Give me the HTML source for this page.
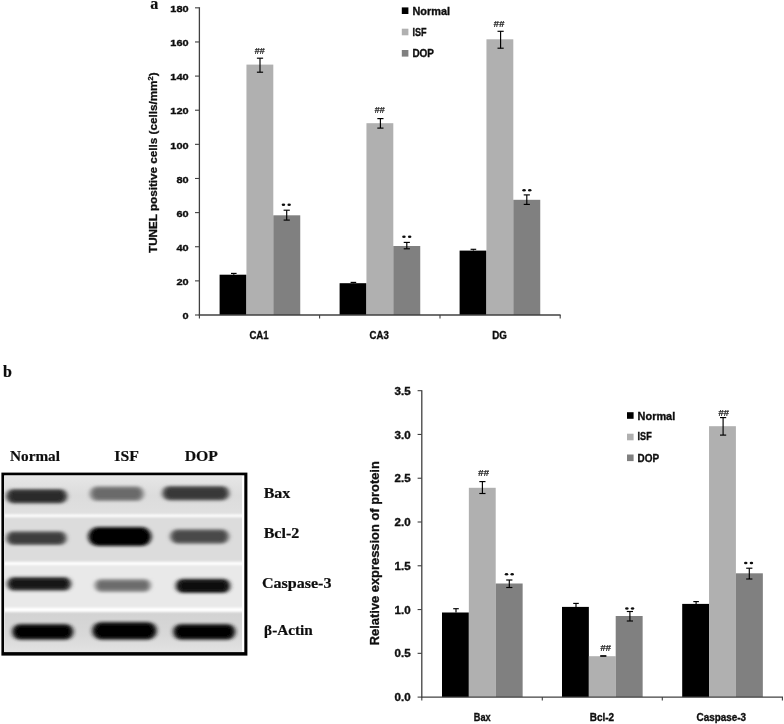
<!DOCTYPE html>
<html><head><meta charset="utf-8"><title>figure</title>
<style>
html,body{margin:0;padding:0;background:#fff;}
body{width:784px;height:724px;overflow:hidden;font-family:"Liberation Sans",sans-serif;}
svg{display:block;}
</style></head><body>
<svg width="784" height="724" viewBox="0 0 784 724">
<defs>
<filter id="b1" x="-20%" y="-50%" width="140%" height="200%"><feGaussianBlur stdDeviation="1.6"/></filter>
<filter id="b2" x="-20%" y="-50%" width="140%" height="200%"><feGaussianBlur stdDeviation="2.2"/></filter>
<filter id="b0" x="-20%" y="-50%" width="140%" height="200%"><feGaussianBlur stdDeviation="1.0"/></filter>
<filter id="bb" x="-20%" y="-60%" width="140%" height="220%"><feGaussianBlur stdDeviation="2.3 1.6"/></filter>
<filter id="bi" x="-20%" y="-60%" width="140%" height="220%"><feGaussianBlur stdDeviation="1.7 1.1"/></filter>
<filter id="bs" x="-5%" y="-200%" width="110%" height="500%"><feGaussianBlur stdDeviation="0 0.8"/></filter>
<filter id="soft"><feGaussianBlur stdDeviation="0.35"/></filter>
</defs>
<rect width="784" height="724" fill="#fff"/>
<g filter="url(#soft)">

<text x="150.3" y="8.7" font-family="Liberation Serif, sans-serif" font-size="16" font-weight="bold" text-anchor="start" stroke="#111" stroke-width="0.2" fill="#111">a</text>
<rect x="219.60" y="274.70" width="26.85" height="40.30" fill="#000" />
<rect x="246.45" y="64.60" width="26.85" height="250.40" fill="#b0b0b0" />
<rect x="273.30" y="215.30" width="26.95" height="99.70" fill="#808080" />
<rect x="339.60" y="283.20" width="26.85" height="31.80" fill="#000" />
<rect x="366.45" y="123.20" width="26.85" height="191.80" fill="#b0b0b0" />
<rect x="393.30" y="246.00" width="26.95" height="69.00" fill="#808080" />
<rect x="459.60" y="250.60" width="26.85" height="64.40" fill="#000" />
<rect x="486.45" y="39.30" width="26.85" height="275.70" fill="#b0b0b0" />
<rect x="513.30" y="199.80" width="26.95" height="115.20" fill="#808080" />
<line x1="199.40" y1="7.20" x2="199.40" y2="315.50" stroke="#404040" stroke-width="1.3"/>
<line x1="198.80" y1="315.00" x2="560.60" y2="315.00" stroke="#404040" stroke-width="1.3"/>
<line x1="195.00" y1="315.00" x2="199.40" y2="315.00" stroke="#404040" stroke-width="1.1"/>
<text x="188.6" y="319.2" font-family="Liberation Sans, sans-serif" font-size="9.8" font-weight="bold" text-anchor="end" textLength="6.1" lengthAdjust="spacingAndGlyphs" stroke="#111" stroke-width="0.35" fill="#111">0</text>
<line x1="195.00" y1="280.87" x2="199.40" y2="280.87" stroke="#404040" stroke-width="1.1"/>
<text x="188.6" y="285.07" font-family="Liberation Sans, sans-serif" font-size="9.8" font-weight="bold" text-anchor="end" textLength="12.2" lengthAdjust="spacingAndGlyphs" stroke="#111" stroke-width="0.35" fill="#111">20</text>
<line x1="195.00" y1="246.74" x2="199.40" y2="246.74" stroke="#404040" stroke-width="1.1"/>
<text x="188.6" y="250.94" font-family="Liberation Sans, sans-serif" font-size="9.8" font-weight="bold" text-anchor="end" textLength="12.2" lengthAdjust="spacingAndGlyphs" stroke="#111" stroke-width="0.35" fill="#111">40</text>
<line x1="195.00" y1="212.61" x2="199.40" y2="212.61" stroke="#404040" stroke-width="1.1"/>
<text x="188.6" y="216.80999999999997" font-family="Liberation Sans, sans-serif" font-size="9.8" font-weight="bold" text-anchor="end" textLength="12.2" lengthAdjust="spacingAndGlyphs" stroke="#111" stroke-width="0.35" fill="#111">60</text>
<line x1="195.00" y1="178.48" x2="199.40" y2="178.48" stroke="#404040" stroke-width="1.1"/>
<text x="188.6" y="182.67999999999998" font-family="Liberation Sans, sans-serif" font-size="9.8" font-weight="bold" text-anchor="end" textLength="12.2" lengthAdjust="spacingAndGlyphs" stroke="#111" stroke-width="0.35" fill="#111">80</text>
<line x1="195.00" y1="144.35" x2="199.40" y2="144.35" stroke="#404040" stroke-width="1.1"/>
<text x="188.6" y="148.54999999999998" font-family="Liberation Sans, sans-serif" font-size="9.8" font-weight="bold" text-anchor="end" textLength="18.3" lengthAdjust="spacingAndGlyphs" stroke="#111" stroke-width="0.35" fill="#111">100</text>
<line x1="195.00" y1="110.22" x2="199.40" y2="110.22" stroke="#404040" stroke-width="1.1"/>
<text x="188.6" y="114.41999999999997" font-family="Liberation Sans, sans-serif" font-size="9.8" font-weight="bold" text-anchor="end" textLength="18.3" lengthAdjust="spacingAndGlyphs" stroke="#111" stroke-width="0.35" fill="#111">120</text>
<line x1="195.00" y1="76.09" x2="199.40" y2="76.09" stroke="#404040" stroke-width="1.1"/>
<text x="188.6" y="80.28999999999998" font-family="Liberation Sans, sans-serif" font-size="9.8" font-weight="bold" text-anchor="end" textLength="18.3" lengthAdjust="spacingAndGlyphs" stroke="#111" stroke-width="0.35" fill="#111">140</text>
<line x1="195.00" y1="41.96" x2="199.40" y2="41.96" stroke="#404040" stroke-width="1.1"/>
<text x="188.6" y="46.15999999999998" font-family="Liberation Sans, sans-serif" font-size="9.8" font-weight="bold" text-anchor="end" textLength="18.3" lengthAdjust="spacingAndGlyphs" stroke="#111" stroke-width="0.35" fill="#111">160</text>
<line x1="195.00" y1="7.83" x2="199.40" y2="7.83" stroke="#404040" stroke-width="1.1"/>
<text x="188.6" y="12.029999999999983" font-family="Liberation Sans, sans-serif" font-size="9.8" font-weight="bold" text-anchor="end" textLength="18.3" lengthAdjust="spacingAndGlyphs" stroke="#111" stroke-width="0.35" fill="#111">180</text>
<line x1="319.60" y1="315.00" x2="319.60" y2="318.60" stroke="#404040" stroke-width="1.1"/>
<line x1="440.00" y1="315.00" x2="440.00" y2="318.60" stroke="#404040" stroke-width="1.1"/>
<line x1="560.20" y1="315.00" x2="560.20" y2="318.60" stroke="#404040" stroke-width="1.1"/>
<line x1="199.40" y1="315.00" x2="199.40" y2="318.60" stroke="#404040" stroke-width="1.1"/>
<text x="259.0" y="339.2" font-family="Liberation Sans, sans-serif" font-size="10.4" font-weight="bold" text-anchor="middle" textLength="19.2" lengthAdjust="spacingAndGlyphs" stroke="#111" stroke-width="0.35" fill="#111">CA1</text>
<text x="379.2" y="339.2" font-family="Liberation Sans, sans-serif" font-size="10.4" font-weight="bold" text-anchor="middle" textLength="19.2" lengthAdjust="spacingAndGlyphs" stroke="#111" stroke-width="0.35" fill="#111">CA3</text>
<text x="499.5" y="339.2" font-family="Liberation Sans, sans-serif" font-size="10.4" font-weight="bold" text-anchor="middle" textLength="14.6" lengthAdjust="spacingAndGlyphs" stroke="#111" stroke-width="0.35" fill="#111">DG</text>
<text transform="translate(156.9,253.0) rotate(-90)" font-family="Liberation Sans, sans-serif" font-size="10.8" font-weight="bold" textLength="180.6" lengthAdjust="spacingAndGlyphs" fill="#111" stroke="#111" stroke-width="0.3">TUNEL positive cells (cells/mm<tspan font-size="7" dy="-3.5">2</tspan><tspan dy="3.5">)</tspan></text>
<rect x="401.80" y="7.40" width="6.60" height="6.60" fill="#000" />
<text x="412.4" y="14.6" font-family="Liberation Sans, sans-serif" font-size="10.4" font-weight="bold" text-anchor="start" textLength="37.6" lengthAdjust="spacingAndGlyphs" stroke="#111" stroke-width="0.35" fill="#111">Normal</text>
<rect x="401.80" y="28.70" width="6.60" height="6.60" fill="#b0b0b0" />
<text x="412.4" y="35.5" font-family="Liberation Sans, sans-serif" font-size="10.4" font-weight="bold" text-anchor="start" textLength="14.1" lengthAdjust="spacingAndGlyphs" stroke="#111" stroke-width="0.35" fill="#111">ISF</text>
<rect x="401.80" y="50.00" width="6.60" height="6.60" fill="#808080" />
<text x="412.4" y="56.5" font-family="Liberation Sans, sans-serif" font-size="10.4" font-weight="bold" text-anchor="start" textLength="21.6" lengthAdjust="spacingAndGlyphs" stroke="#111" stroke-width="0.35" fill="#111">DOP</text>
<line x1="233.80" y1="273.40" x2="233.80" y2="274.70" stroke="#000" stroke-width="1.15"/>
<line x1="231.00" y1="273.40" x2="236.60" y2="273.40" stroke="#000" stroke-width="1.15"/>
<line x1="260.00" y1="58.20" x2="260.00" y2="72.20" stroke="#000" stroke-width="1.15"/>
<line x1="256.90" y1="58.20" x2="263.10" y2="58.20" stroke="#000" stroke-width="1.15"/>
<line x1="256.90" y1="72.20" x2="263.10" y2="72.20" stroke="#000" stroke-width="1.15"/>
<line x1="286.70" y1="210.20" x2="286.70" y2="220.10" stroke="#000" stroke-width="1.15"/>
<line x1="283.60" y1="210.20" x2="289.80" y2="210.20" stroke="#000" stroke-width="1.15"/>
<line x1="283.60" y1="220.10" x2="289.80" y2="220.10" stroke="#000" stroke-width="1.15"/>
<line x1="353.40" y1="282.40" x2="353.40" y2="283.20" stroke="#000" stroke-width="1.15"/>
<line x1="350.60" y1="282.40" x2="356.20" y2="282.40" stroke="#000" stroke-width="1.15"/>
<line x1="380.40" y1="118.60" x2="380.40" y2="128.10" stroke="#000" stroke-width="1.15"/>
<line x1="377.30" y1="118.60" x2="383.50" y2="118.60" stroke="#000" stroke-width="1.15"/>
<line x1="377.30" y1="128.10" x2="383.50" y2="128.10" stroke="#000" stroke-width="1.15"/>
<line x1="406.80" y1="242.40" x2="406.80" y2="248.80" stroke="#000" stroke-width="1.15"/>
<line x1="403.70" y1="242.40" x2="409.90" y2="242.40" stroke="#000" stroke-width="1.15"/>
<line x1="403.70" y1="248.80" x2="409.90" y2="248.80" stroke="#000" stroke-width="1.15"/>
<line x1="473.40" y1="249.30" x2="473.40" y2="250.60" stroke="#000" stroke-width="1.15"/>
<line x1="470.60" y1="249.30" x2="476.20" y2="249.30" stroke="#000" stroke-width="1.15"/>
<line x1="500.60" y1="31.30" x2="500.60" y2="48.20" stroke="#000" stroke-width="1.15"/>
<line x1="497.50" y1="31.30" x2="503.70" y2="31.30" stroke="#000" stroke-width="1.15"/>
<line x1="497.50" y1="48.20" x2="503.70" y2="48.20" stroke="#000" stroke-width="1.15"/>
<line x1="526.80" y1="194.90" x2="526.80" y2="204.40" stroke="#000" stroke-width="1.15"/>
<line x1="523.70" y1="194.90" x2="529.90" y2="194.90" stroke="#000" stroke-width="1.15"/>
<line x1="523.70" y1="204.40" x2="529.90" y2="204.40" stroke="#000" stroke-width="1.15"/>
<text x="254.4" y="54.199999999999996" font-family="Liberation Sans, sans-serif" font-size="8.71" font-weight="bold" font-style="italic" textLength="10.20" lengthAdjust="spacingAndGlyphs" fill="#222" stroke="#222" stroke-width="0.15">##</text>
<text x="374.4" y="112.60000000000001" font-family="Liberation Sans, sans-serif" font-size="8.86" font-weight="bold" font-style="italic" textLength="10.20" lengthAdjust="spacingAndGlyphs" fill="#222" stroke="#222" stroke-width="0.15">##</text>
<text x="493.6" y="26.7" font-family="Liberation Sans, sans-serif" font-size="8.71" font-weight="bold" font-style="italic" textLength="10.60" lengthAdjust="spacingAndGlyphs" fill="#222" stroke="#222" stroke-width="0.15">##</text>
<ellipse cx="283.45" cy="204.70" rx="1.75" ry="1.3" fill="#111"/>
<ellipse cx="289.15" cy="204.70" rx="1.75" ry="1.3" fill="#111"/>
<ellipse cx="403.95" cy="236.80" rx="1.75" ry="1.3" fill="#111"/>
<ellipse cx="409.65" cy="236.80" rx="1.75" ry="1.3" fill="#111"/>
<ellipse cx="524.05" cy="190.20" rx="1.75" ry="1.3" fill="#111"/>
<ellipse cx="529.75" cy="190.20" rx="1.75" ry="1.3" fill="#111"/>
<text x="3.0" y="376.8" font-family="Liberation Serif, sans-serif" font-size="16" font-weight="bold" text-anchor="start" stroke="#111" stroke-width="0.2" fill="#111">b</text>
<text x="10.0" y="461.3" font-family="Liberation Serif, sans-serif" font-size="15.6" font-weight="bold" text-anchor="start" textLength="50.0" lengthAdjust="spacingAndGlyphs" stroke="#111" stroke-width="0.2" fill="#111">Normal</text>
<text x="114.3" y="461.3" font-family="Liberation Serif, sans-serif" font-size="15.6" font-weight="bold" text-anchor="start" textLength="24.5" lengthAdjust="spacingAndGlyphs" stroke="#111" stroke-width="0.2" fill="#111">ISF</text>
<text x="184.7" y="461.3" font-family="Liberation Serif, sans-serif" font-size="15.6" font-weight="bold" text-anchor="start" textLength="33.3" lengthAdjust="spacingAndGlyphs" stroke="#111" stroke-width="0.2" fill="#111">DOP</text>
<rect x="1.40" y="472.60" width="246.00" height="183.00" fill="#000" />
<rect x="4.10" y="475.30" width="240.20" height="176.80" fill="#fff" />
<linearGradient id="g1" x1="0" y1="0" x2="0" y2="1"><stop offset="0" stop-color="#e6e6e6"/><stop offset="0.5" stop-color="#dcdcdc"/><stop offset="1" stop-color="#e0e0e0"/></linearGradient>
<linearGradient id="g4" x1="0" y1="0" x2="0" y2="1"><stop offset="0" stop-color="#d2d2d2"/><stop offset="0.6" stop-color="#d8d8d8"/><stop offset="1" stop-color="#e2e2e2"/></linearGradient>
<rect x="4.80" y="476.40" width="237.20" height="175.40" fill="#dedede" />
<rect x="4.80" y="476.40" width="237.20" height="39.00" fill="url(#g1)" />
<rect x="4.80" y="516.00" width="237.20" height="47.00" fill="#dcdcdc" />
<rect x="4.80" y="563.40" width="237.20" height="46.60" fill="#e9e9e9" />
<rect x="4.80" y="610.00" width="237.20" height="41.80" fill="url(#g4)" />
<rect x="4.8" y="514.50" width="237.2" height="2.60" fill="#fff" filter="url(#bs)"/>
<rect x="4.8" y="561.80" width="237.2" height="3.20" fill="#fff" filter="url(#bs)"/>
<rect x="4.8" y="607.80" width="237.2" height="4.20" fill="#fff" filter="url(#bs)"/>
<g>
<rect x="5.9" y="488.9" width="61.6" height="14.6" rx="7.3" fill="#4a4a4a" filter="url(#bb)"/>
<rect x="9.9" y="491.5" width="53.6" height="9.4" rx="4.7" fill="#2c2c2c" filter="url(#bi)"/>
<rect x="89.7" y="486.3" width="54.3" height="14.8" rx="7.4" fill="#828282" filter="url(#bb)"/>
<rect x="93.7" y="488.9" width="46.3" height="9.6" rx="4.8" fill="#6a6a6a" filter="url(#bi)"/>
<rect x="162.0" y="485.9" width="67.5" height="14.6" rx="7.3" fill="#555" filter="url(#bb)"/>
<rect x="166.0" y="488.5" width="59.5" height="9.4" rx="4.7" fill="#383838" filter="url(#bi)"/>
<rect x="6.1" y="531.3" width="60.7" height="13.8" rx="6.9" fill="#585858" filter="url(#bb)"/>
<rect x="10.1" y="533.9" width="52.7" height="8.6" rx="4.3" fill="#3c3c3c" filter="url(#bi)"/>
<rect x="88.1" y="527.1" width="63.4" height="19.0" rx="9.5" fill="#0a0a0a" filter="url(#bb)"/>
<rect x="92.1" y="530.0" width="55.4" height="13.2" rx="6.6" fill="#000" filter="url(#bi)"/>
<rect x="170.0" y="529.3" width="59.1" height="14.4" rx="7.2" fill="#626262" filter="url(#bb)"/>
<rect x="174.0" y="531.9" width="51.1" height="9.2" rx="4.6" fill="#484848" filter="url(#bi)"/>
<rect x="6.7" y="576.9" width="64.8" height="13.8" rx="6.9" fill="#3c3c3c" filter="url(#bb)"/>
<rect x="10.7" y="579.5" width="56.8" height="8.6" rx="4.3" fill="#161616" filter="url(#bi)"/>
<rect x="94.5" y="578.9" width="56.5" height="13.0" rx="6.5" fill="#868686" filter="url(#bb)"/>
<rect x="98.5" y="582.0" width="48.5" height="6.8" rx="3.4" fill="#6c6c6c" filter="url(#bi)"/>
<rect x="175.5" y="578.7" width="55.0" height="14.4" rx="7.2" fill="#2c2c2c" filter="url(#bb)"/>
<rect x="179.5" y="581.3" width="47.0" height="9.2" rx="4.6" fill="#0c0c0c" filter="url(#bi)"/>
<rect x="12.0" y="623.9" width="61.5" height="15.8" rx="7.9" fill="#1e1e1e" filter="url(#bb)"/>
<rect x="16.0" y="626.9" width="53.5" height="9.8" rx="4.9" fill="#000" filter="url(#bi)"/>
<rect x="92.0" y="621.9" width="65.0" height="17.8" rx="8.9" fill="#1e1e1e" filter="url(#bb)"/>
<rect x="96.0" y="624.9" width="57.0" height="11.8" rx="5.9" fill="#000" filter="url(#bi)"/>
<rect x="173.0" y="623.9" width="62.5" height="15.8" rx="7.9" fill="#1e1e1e" filter="url(#bb)"/>
<rect x="177.0" y="626.9" width="54.5" height="9.8" rx="4.9" fill="#000" filter="url(#bi)"/>
</g>
<text x="263.7" y="497.9" font-family="Liberation Serif, sans-serif" font-size="14.6" font-weight="bold" text-anchor="start" textLength="26.6" lengthAdjust="spacingAndGlyphs" stroke="#111" stroke-width="0.2" fill="#111">Bax</text>
<text x="263.7" y="538.1" font-family="Liberation Serif, sans-serif" font-size="14.6" font-weight="bold" text-anchor="start" textLength="35.6" lengthAdjust="spacingAndGlyphs" stroke="#111" stroke-width="0.2" fill="#111">Bcl-2</text>
<text x="261.9" y="587.6" font-family="Liberation Serif, sans-serif" font-size="14.6" font-weight="bold" text-anchor="start" textLength="69.6" lengthAdjust="spacingAndGlyphs" stroke="#111" stroke-width="0.2" fill="#111">Caspase-3</text>
<text x="264.1" y="634.7" font-family="Liberation Serif, sans-serif" font-size="14.6" font-weight="bold" text-anchor="start" textLength="48.7" lengthAdjust="spacingAndGlyphs" stroke="#111" stroke-width="0.2" fill="#111">β-Actin</text>
<rect x="442.00" y="612.50" width="26.85" height="84.60" fill="#000" />
<rect x="468.85" y="487.80" width="26.85" height="209.30" fill="#b0b0b0" />
<rect x="495.70" y="583.50" width="26.95" height="113.60" fill="#808080" />
<rect x="562.00" y="606.90" width="26.85" height="90.20" fill="#000" />
<rect x="588.85" y="656.20" width="26.85" height="40.90" fill="#b0b0b0" />
<rect x="615.70" y="616.00" width="26.95" height="81.10" fill="#808080" />
<rect x="682.20" y="603.90" width="26.85" height="93.20" fill="#000" />
<rect x="709.05" y="426.20" width="26.85" height="270.90" fill="#b0b0b0" />
<rect x="735.90" y="573.30" width="26.95" height="123.80" fill="#808080" />
<line x1="421.80" y1="390.20" x2="421.80" y2="697.60" stroke="#404040" stroke-width="1.3"/>
<line x1="421.20" y1="697.10" x2="783.00" y2="697.10" stroke="#404040" stroke-width="1.3"/>
<line x1="417.60" y1="697.10" x2="421.80" y2="697.10" stroke="#404040" stroke-width="1.1"/>
<text x="410.6" y="701.2" font-family="Liberation Sans, sans-serif" font-size="10.0" font-weight="bold" text-anchor="end" textLength="16.0" lengthAdjust="spacingAndGlyphs" stroke="#111" stroke-width="0.35" fill="#111">0.0</text>
<line x1="417.60" y1="653.33" x2="421.80" y2="653.33" stroke="#404040" stroke-width="1.1"/>
<text x="410.6" y="657.4250000000001" font-family="Liberation Sans, sans-serif" font-size="10.0" font-weight="bold" text-anchor="end" textLength="16.0" lengthAdjust="spacingAndGlyphs" stroke="#111" stroke-width="0.35" fill="#111">0.5</text>
<line x1="417.60" y1="609.55" x2="421.80" y2="609.55" stroke="#404040" stroke-width="1.1"/>
<text x="410.6" y="613.6500000000001" font-family="Liberation Sans, sans-serif" font-size="10.0" font-weight="bold" text-anchor="end" textLength="16.0" lengthAdjust="spacingAndGlyphs" stroke="#111" stroke-width="0.35" fill="#111">1.0</text>
<line x1="417.60" y1="565.78" x2="421.80" y2="565.78" stroke="#404040" stroke-width="1.1"/>
<text x="410.6" y="569.8750000000001" font-family="Liberation Sans, sans-serif" font-size="10.0" font-weight="bold" text-anchor="end" textLength="16.0" lengthAdjust="spacingAndGlyphs" stroke="#111" stroke-width="0.35" fill="#111">1.5</text>
<line x1="417.60" y1="522.00" x2="421.80" y2="522.00" stroke="#404040" stroke-width="1.1"/>
<text x="410.6" y="526.1" font-family="Liberation Sans, sans-serif" font-size="10.0" font-weight="bold" text-anchor="end" textLength="16.0" lengthAdjust="spacingAndGlyphs" stroke="#111" stroke-width="0.35" fill="#111">2.0</text>
<line x1="417.60" y1="478.23" x2="421.80" y2="478.23" stroke="#404040" stroke-width="1.1"/>
<text x="410.6" y="482.32500000000005" font-family="Liberation Sans, sans-serif" font-size="10.0" font-weight="bold" text-anchor="end" textLength="16.0" lengthAdjust="spacingAndGlyphs" stroke="#111" stroke-width="0.35" fill="#111">2.5</text>
<line x1="417.60" y1="434.45" x2="421.80" y2="434.45" stroke="#404040" stroke-width="1.1"/>
<text x="410.6" y="438.55000000000007" font-family="Liberation Sans, sans-serif" font-size="10.0" font-weight="bold" text-anchor="end" textLength="16.0" lengthAdjust="spacingAndGlyphs" stroke="#111" stroke-width="0.35" fill="#111">3.0</text>
<line x1="417.60" y1="390.68" x2="421.80" y2="390.68" stroke="#404040" stroke-width="1.1"/>
<text x="410.6" y="394.77500000000003" font-family="Liberation Sans, sans-serif" font-size="10.0" font-weight="bold" text-anchor="end" textLength="16.0" lengthAdjust="spacingAndGlyphs" stroke="#111" stroke-width="0.35" fill="#111">3.5</text>
<line x1="542.30" y1="697.10" x2="542.30" y2="700.60" stroke="#404040" stroke-width="1.1"/>
<line x1="662.30" y1="697.10" x2="662.30" y2="700.60" stroke="#404040" stroke-width="1.1"/>
<line x1="782.40" y1="697.10" x2="782.40" y2="700.60" stroke="#404040" stroke-width="1.1"/>
<line x1="421.80" y1="697.10" x2="421.80" y2="700.60" stroke="#404040" stroke-width="1.1"/>
<text x="482.2" y="721.3" font-family="Liberation Sans, sans-serif" font-size="10.4" font-weight="bold" text-anchor="middle" textLength="16.8" lengthAdjust="spacingAndGlyphs" stroke="#111" stroke-width="0.35" fill="#111">Bax</text>
<text x="601.9" y="721.3" font-family="Liberation Sans, sans-serif" font-size="10.4" font-weight="bold" text-anchor="middle" textLength="24.4" lengthAdjust="spacingAndGlyphs" stroke="#111" stroke-width="0.35" fill="#111">Bcl-2</text>
<text x="721.3" y="721.3" font-family="Liberation Sans, sans-serif" font-size="10.4" font-weight="bold" text-anchor="middle" textLength="49.6" lengthAdjust="spacingAndGlyphs" stroke="#111" stroke-width="0.35" fill="#111">Caspase-3</text>
<text transform="translate(379.3,645.2) rotate(-90)" font-family="Liberation Sans, sans-serif" font-size="12.1" font-weight="bold" textLength="184" lengthAdjust="spacingAndGlyphs" fill="#111" stroke="#111" stroke-width="0.3">Relative expression of protein</text>
<rect x="627.00" y="412.20" width="6.60" height="6.60" fill="#000" />
<text x="637.6" y="419.6" font-family="Liberation Sans, sans-serif" font-size="10.4" font-weight="bold" text-anchor="start" textLength="37.6" lengthAdjust="spacingAndGlyphs" stroke="#111" stroke-width="0.35" fill="#111">Normal</text>
<rect x="627.00" y="433.70" width="6.60" height="6.60" fill="#b0b0b0" />
<text x="637.6" y="440.0" font-family="Liberation Sans, sans-serif" font-size="10.4" font-weight="bold" text-anchor="start" textLength="14.1" lengthAdjust="spacingAndGlyphs" stroke="#111" stroke-width="0.35" fill="#111">ISF</text>
<rect x="627.00" y="454.50" width="6.60" height="6.60" fill="#808080" />
<text x="637.6" y="461.5" font-family="Liberation Sans, sans-serif" font-size="10.4" font-weight="bold" text-anchor="start" textLength="21.6" lengthAdjust="spacingAndGlyphs" stroke="#111" stroke-width="0.35" fill="#111">DOP</text>
<line x1="456.00" y1="608.70" x2="456.00" y2="612.50" stroke="#000" stroke-width="1.15"/>
<line x1="453.20" y1="608.70" x2="458.80" y2="608.70" stroke="#000" stroke-width="1.15"/>
<line x1="482.40" y1="481.60" x2="482.40" y2="493.50" stroke="#000" stroke-width="1.15"/>
<line x1="479.30" y1="481.60" x2="485.50" y2="481.60" stroke="#000" stroke-width="1.15"/>
<line x1="479.30" y1="493.50" x2="485.50" y2="493.50" stroke="#000" stroke-width="1.15"/>
<line x1="509.30" y1="580.00" x2="509.30" y2="587.50" stroke="#000" stroke-width="1.15"/>
<line x1="506.20" y1="580.00" x2="512.40" y2="580.00" stroke="#000" stroke-width="1.15"/>
<line x1="506.20" y1="587.50" x2="512.40" y2="587.50" stroke="#000" stroke-width="1.15"/>
<line x1="576.00" y1="603.40" x2="576.00" y2="606.90" stroke="#000" stroke-width="1.15"/>
<line x1="573.20" y1="603.40" x2="578.80" y2="603.40" stroke="#000" stroke-width="1.15"/>
<line x1="600.20" y1="656.00" x2="606.40" y2="656.00" stroke="#111" stroke-width="1.8"/>
<line x1="629.90" y1="611.50" x2="629.90" y2="621.00" stroke="#000" stroke-width="1.15"/>
<line x1="626.80" y1="611.50" x2="633.00" y2="611.50" stroke="#000" stroke-width="1.15"/>
<line x1="626.80" y1="621.00" x2="633.00" y2="621.00" stroke="#000" stroke-width="1.15"/>
<line x1="696.10" y1="601.60" x2="696.10" y2="603.90" stroke="#000" stroke-width="1.15"/>
<line x1="693.30" y1="601.60" x2="698.90" y2="601.60" stroke="#000" stroke-width="1.15"/>
<line x1="723.10" y1="417.60" x2="723.10" y2="435.10" stroke="#000" stroke-width="1.15"/>
<line x1="720.00" y1="417.60" x2="726.20" y2="417.60" stroke="#000" stroke-width="1.15"/>
<line x1="720.00" y1="435.10" x2="726.20" y2="435.10" stroke="#000" stroke-width="1.15"/>
<line x1="749.30" y1="568.20" x2="749.30" y2="579.00" stroke="#000" stroke-width="1.15"/>
<line x1="746.20" y1="568.20" x2="752.40" y2="568.20" stroke="#000" stroke-width="1.15"/>
<line x1="746.20" y1="579.00" x2="752.40" y2="579.00" stroke="#000" stroke-width="1.15"/>
<text x="478.0" y="476.0" font-family="Liberation Sans, sans-serif" font-size="9.29" font-weight="bold" font-style="italic" textLength="10.90" lengthAdjust="spacingAndGlyphs" fill="#222" stroke="#222" stroke-width="0.15">##</text>
<text x="600.2" y="650.9" font-family="Liberation Sans, sans-serif" font-size="8.57" font-weight="bold" font-style="italic" textLength="10.60" lengthAdjust="spacingAndGlyphs" fill="#222" stroke="#222" stroke-width="0.15">##</text>
<text x="718.2" y="415.59999999999997" font-family="Liberation Sans, sans-serif" font-size="8.86" font-weight="bold" font-style="italic" textLength="10.70" lengthAdjust="spacingAndGlyphs" fill="#222" stroke="#222" stroke-width="0.15">##</text>
<ellipse cx="506.50" cy="574.30" rx="1.75" ry="1.3" fill="#111"/>
<ellipse cx="512.20" cy="574.30" rx="1.75" ry="1.3" fill="#111"/>
<ellipse cx="626.85" cy="608.50" rx="1.75" ry="1.3" fill="#111"/>
<ellipse cx="632.55" cy="608.50" rx="1.75" ry="1.3" fill="#111"/>
<ellipse cx="745.75" cy="563.00" rx="1.75" ry="1.3" fill="#111"/>
<ellipse cx="751.45" cy="563.00" rx="1.75" ry="1.3" fill="#111"/>
</g></svg></body></html>
